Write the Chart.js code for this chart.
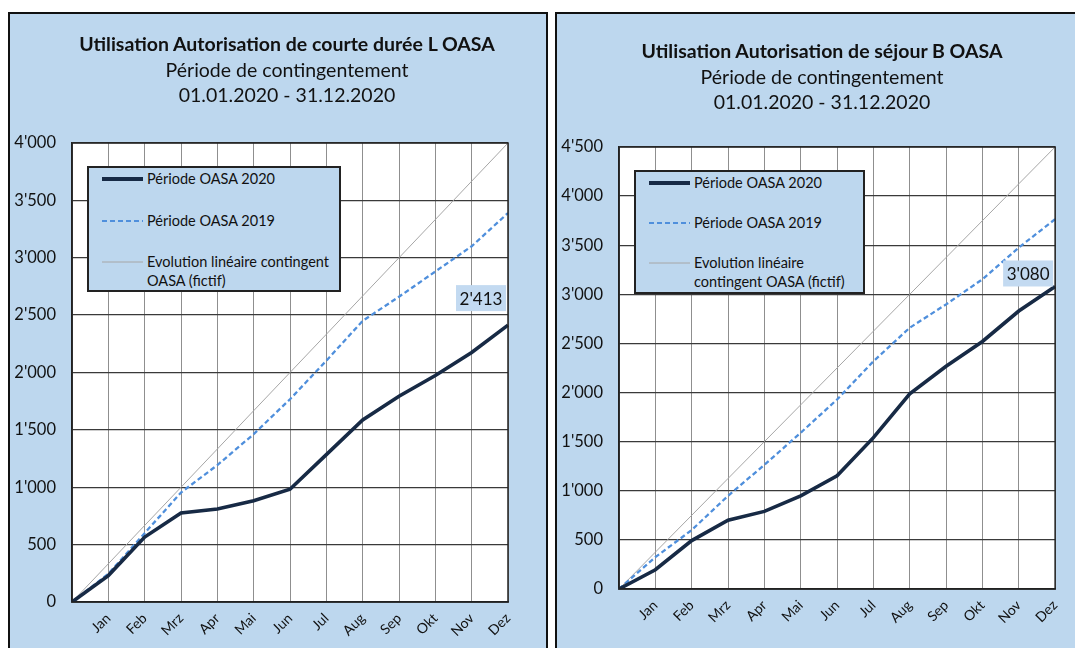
<!DOCTYPE html>
<html>
<head>
<meta charset="utf-8">
<script src="https://cdn.jsdelivr.net/npm/chart.js@4"></script>
<style>
  html,body{margin:0;padding:0;background:#fff;width:1075px;height:648px;overflow:hidden;font-family:Lato, "Open Sans", sans-serif;}
  .panel{position:absolute;background:#bdd7ee;border:2px solid #111;box-sizing:border-box;}
  .cv{position:absolute;}
  .title{position:absolute;width:600px;text-align:center;color:#111;font-size:19.5px;line-height:25.5px;}
  .title b{font-weight:700;}
  .legend{position:absolute;background:#bdd7ee;border:2px solid #222;box-sizing:border-box;}
  .legend svg{position:absolute;left:0;top:0;}
  .lt{position:absolute;font-size:14.5px;color:#111;line-height:19px;white-space:nowrap;}
</style>
</head>
<body>
<div class="panel" style="left:8px;top:12px;width:540px;height:660px;"></div>
<div class="panel" style="left:555px;top:12px;width:540px;height:660px;"></div>

<canvas id="c1" class="cv" style="left:10px;top:14px;"></canvas>
<canvas id="c2" class="cv" style="left:557px;top:14px;"></canvas>

<div class="title" id="t1" style="left:-13px;top:31px;"></div>
<div class="title" id="t2" style="left:522px;top:38px;"></div>

<div class="legend" id="lg1" style="left:87px;top:166px;width:254px;height:126px;"></div>
<div class="legend" id="lg2" style="left:634px;top:170px;width:231px;height:124px;"></div>

<script>
// ---------- DATA ----------
const months = ["", "Jan", "Feb", "Mrz", "Apr", "Mai", "Jun", "Jul", "Aug", "Sep", "Okt", "Nov", "Dez"];

// Chart 1: Autorisation de courte durée L
const l2020 = [0, 230, 566, 776, 810, 882, 983, 1284, 1586, 1793, 1974, 2175, 2413];
const l2019 = [0, 245, 600, 954, 1193, 1463, 1767, 2103, 2450, 2660, 2880, 3100, 3390];
const lLinear = [0, 333, 667, 1000, 1333, 1667, 2000, 2333, 2667, 3000, 3333, 3667, 4000];
const lTicksMax = 4000;

// Chart 2: Autorisation de séjour B
const b2020 = [0, 196, 493, 700, 790, 949, 1152, 1541, 1986, 2267, 2520, 2830, 3080];
const b2019 = [0, 324, 600, 949, 1264, 1591, 1929, 2318, 2660, 2898, 3153, 3476, 3765];
const bLinear = [0, 375, 750, 1125, 1500, 1875, 2250, 2625, 3000, 3375, 3750, 4125, 4500];
const bTicksMax = 4500;

const seriesNames = ["Période OASA 2020", "Période OASA 2019", "Evolution linéaire contingent OASA (fictif)"];
const titles1 = ["Utilisation Autorisation de courte durée L OASA", "Période de contingentement", "01.01.2020 - 31.12.2020"];
const titles2 = ["Utilisation Autorisation de séjour B OASA", "Période de contingentement", "01.01.2020 - 31.12.2020"];

// ---------- STYLE ----------
const NAVY = "#172a45", BLUE = "#4f8fdc", GREY = "#a6a6a6";
const FONT = "Lato, 'Open Sans', sans-serif";

function fmt(v){ return String(Math.round(v)).replace(/\B(?=(\d{3})+(?!\d))/g, "'"); }

function titleHTML(el, t){
  el.innerHTML = "<b>"+t[0]+"</b><br>"+t[1]+"<br>"+t[2];
}
titleHTML(document.getElementById("t1"), titles1);
titleHTML(document.getElementById("t2"), titles2);

function legendHTML(el, rows){
  const w = el.offsetWidth, h = el.offsetHeight;
  let svg = '<svg width="'+w+'" height="'+h+'">';
  const styles = [
    'stroke="'+NAVY+'" stroke-width="4"',
    'stroke="'+BLUE+'" stroke-width="2.2" stroke-dasharray="5,3"',
    'stroke="'+GREY+'" stroke-width="1"'
  ];
  rows.forEach((r,i)=>{
    svg += '<line x1="13" x2="54" y1="'+r.y+'" y2="'+r.y+'" '+styles[i]+'/>';
  });
  svg += '</svg>';
  let html = svg;
  rows.forEach((r,i)=>{
    html += '<div class="lt" style="left:58px;top:'+(r.y-10)+'px;">'+r.lines.join("<br>")+'</div>';
  });
  el.innerHTML = html;
}
legendHTML(document.getElementById("lg1"), [
  {y:11, lines:[seriesNames[0]]},
  {y:53, lines:[seriesNames[1]]},
  {y:94, lines:["Evolution linéaire contingent", "OASA (fictif)"]}
]);
legendHTML(document.getElementById("lg2"), [
  {y:11, lines:[seriesNames[0]]},
  {y:51, lines:[seriesNames[1]]},
  {y:91, lines:["Evolution linéaire", "contingent OASA (fictif)"]}
]);

const areaBg = {
  id: "areaBg",
  beforeDraw(chart){
    const a = chart.chartArea, ctx = chart.ctx;
    ctx.save();
    ctx.fillStyle = "#ffffff";
    ctx.fillRect(a.left, a.top, a.right - a.left, a.bottom - a.top);
    ctx.restore();
  }
};
const areaBorder = {
  id: "areaBorder",
  afterDatasetsDraw(chart){
    const a = chart.chartArea, ctx = chart.ctx;
    ctx.save();
    ctx.strokeStyle = "#222"; ctx.lineWidth = 1.5;
    ctx.strokeRect(a.left, a.top, a.right - a.left, a.bottom - a.top);
    ctx.restore();
  }
};
const lastLabel = {
  id: "lastLabel",
  afterDraw(chart, args, opts){
    const ds = chart.data.datasets[0].data;
    const i = ds.length - 1;
    const x = chart.scales.x.getPixelForValue(i);
    const y = chart.scales.y.getPixelForValue(ds[i]);
    const ctx = chart.ctx;
    const w = 50, h = 26;
    const cx = x + opts.dx, cy = y + opts.dy;
    ctx.save();
    ctx.fillStyle = "#c3daf1";
    ctx.fillRect(cx - w/2, cy - h/2, w, h);
    ctx.fillStyle = "#111";
    ctx.font = "17px " + FONT;
    ctx.textAlign = "center"; ctx.textBaseline = "middle";
    ctx.fillText(fmt(ds[i]), cx, cy + 1);
    ctx.restore();
  }
};

function makeChart(id, w, h, d2020, d2019, dLin, ymax, area, lbl){
  const cv = document.getElementById(id);
  cv.width = w; cv.height = h; cv.style.width = w+"px"; cv.style.height = h+"px";
  return new Chart(cv, {
    type: "line",
    data: {
      labels: months,
      datasets: [
        {label: seriesNames[0], data: d2020, borderColor: NAVY, borderWidth: 3.6, pointRadius: 0, tension: 0, order: 1},
        {label: seriesNames[1], data: d2019, borderColor: BLUE, borderWidth: 2.3, borderDash: [5,3], pointRadius: 0, tension: 0, order: 2},
        {label: seriesNames[2], data: dLin, borderColor: GREY, borderWidth: 1, pointRadius: 0, tension: 0, order: 3}
      ]
    },
    options: {
      responsive: false, animation: false, maintainAspectRatio: false,
      layout: {padding: {top: area.top, right: w - area.right, left: 0, bottom: 0}},
      plugins: {legend: {display: false}, tooltip: {enabled: false}, title: {display: false}, lastLabel: lbl},
      scales: {
        x: {
          offset: false,
          grid: {color: "#8f8f8f", lineWidth: 1, drawTicks: false},
          border: {color: "#222", width: 1.5},
          ticks: {autoSkip: false, maxRotation: 45, minRotation: 45, padding: 8, color: "#111", font: {family: FONT, size: 14}},
          afterFit(s){ s.height = h - area.bottom; }
        },
        y: {
          min: 0, max: ymax,
          grid: {color: "#3a3a3a", lineWidth: 1.3, drawTicks: false},
          border: {color: "#222", width: 1.5},
          ticks: {stepSize: 500, padding: 16, color: "#111", font: {family: FONT, size: 16.5}, callback: v => fmt(v)},
          afterFit(s){ s.width = area.left; }
        }
      }
    },
    plugins: [areaBg, areaBorder, lastLabel]
  });
}

makeChart("c1", 535, 634, l2020, l2019, lLinear, lTicksMax, {left:62, top:129, right:498, bottom:588}, {dx:-27, dy:-27});
makeChart("c2", 518, 634, b2020, b2019, bLinear, bTicksMax, {left:62, top:133, right:499, bottom:575}, {dx:-27, dy:-13});
</script>
</body>
</html>
